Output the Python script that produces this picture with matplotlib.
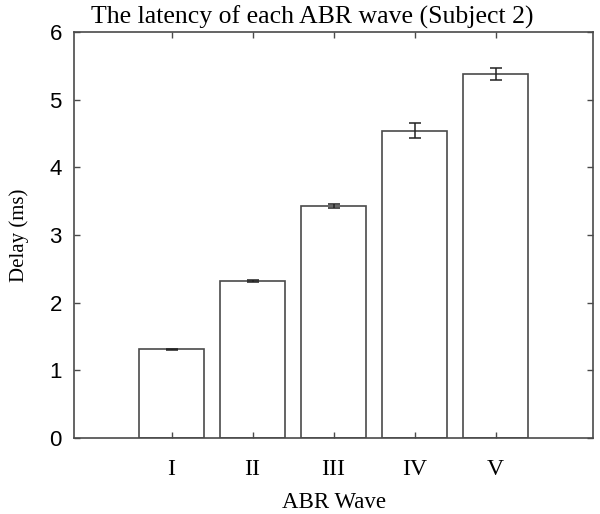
import matplotlib
matplotlib.use('Agg')
import matplotlib.pyplot as plt

# Data
waves = ['I', 'II', 'III', 'IV', 'V']
positions = [1, 2, 3, 4, 5]
latency = [1.31, 2.32, 3.43, 4.54, 5.38]
latency_err = [0.01, 0.02, 0.03, 0.11, 0.09]

serif = 'Liberation Serif'
sans = 'Liberation Sans'
edge = '#4a4a4a'

fig = plt.figure(figsize=(6, 5.14), dpi=100)
ax = fig.add_axes([0.124, 0.148, 0.864, 0.790])

ax.bar(positions, latency, width=0.8, color='white', edgecolor=edge, linewidth=1.2)
ax.errorbar(positions, latency, yerr=latency_err, fmt='none', ecolor='#222222',
            elinewidth=1.1, capsize=4.5, capthick=1.1)

ax.set_xlim(-0.2, 6.2)
ax.set_ylim(0, 6)
ax.set_xticks(positions)
ax.set_xticklabels(waves, fontfamily=serif, fontsize=17)
ax.set_yticks(range(0, 7))
ax.set_yticklabels([str(v) for v in range(0, 7)], fontfamily=sans, fontsize=16)

ax.tick_params(direction='in', top=True, right=True, length=4, width=1, color=edge)
ax.tick_params(axis='x', pad=15)
ax.tick_params(axis='y', pad=9)
for s in ax.spines.values():
    s.set_color(edge)
    s.set_linewidth(1.2)

ax.set_xlabel('ABR Wave', fontfamily=serif, fontsize=16.5, labelpad=9)
ax.set_ylabel('Delay (ms)', fontfamily=serif, fontsize=15, labelpad=15)
fig.text(0.521, 0.99, 'The latency of each ABR wave (Subject 2)', ha='center', va='top',
         fontfamily=serif, fontsize=18.5)

fig.savefig('out.png', dpi=100)
